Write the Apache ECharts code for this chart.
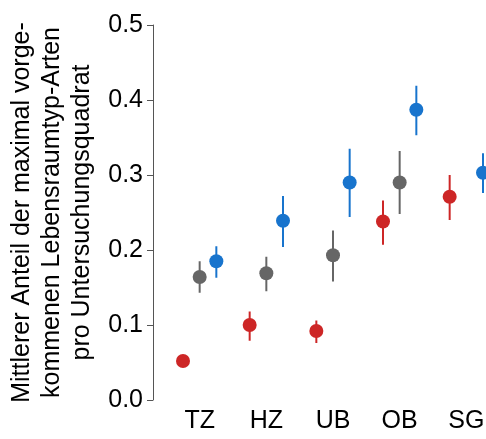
<!DOCTYPE html>
<html>
<head>
<meta charset="utf-8">
<script src="https://cdn.jsdelivr.net/npm/echarts@6/dist/echarts.min.js"></script>
<style>
  html, body { margin: 0; padding: 0; background: #fff; }
  #chart { width: 486px; height: 439px; }
</style>
</head>
<body>
<div id="chart"></div>
<script>
// ----- Data -----
const categories = ['TZ', 'HZ', 'UB', 'OB', 'SG'];

const redMean  = [0.052, 0.100, 0.092, 0.238, 0.271];
const redLow   = [0.046, 0.079, 0.076, 0.207, 0.240];
const redHigh  = [0.058, 0.118, 0.106, 0.266, 0.300];

const grayMean = [0.164, 0.169, 0.193, 0.290, null];
const grayLow  = [0.143, 0.145, 0.158, 0.248, null];
const grayHigh = [0.185, 0.191, 0.226, 0.332, null];

const blueMean = [0.185, 0.239, 0.290, 0.387, 0.303];
const blueLow  = [0.163, 0.204, 0.244, 0.353, 0.276];
const blueHigh = [0.205, 0.272, 0.335, 0.419, 0.329];

const yTitle = 'Mittlerer Anteil der maximal vorge-\nkommenen Lebensraumtyp-Arten\npro Untersuchungsquadrat';

// ----- Styling -----
const FONT = '"Liberation Sans", Arial, sans-serif';
const groups = [
  { name: 'red',  color: '#CD2626', mean: redMean,  low: redLow,  high: redHigh,  offset: -0.25 },
  { name: 'gray', color: '#666666', mean: grayMean, low: grayLow, high: grayHigh, offset: 0 },
  { name: 'blue', color: '#1874CD', mean: blueMean, low: blueLow, high: blueHigh, offset: 0.25 }
];

const chart = echarts.init(document.getElementById('chart'), null, { renderer: 'canvas' });

function errorBarSeries(g) {
  const data = [];
  categories.forEach((c, i) => {
    if (g.mean[i] == null) return;
    data.push([i + g.offset, g.low[i], g.high[i]]);
  });
  return {
    name: g.name + '-err',
    type: 'custom',
    silent: true,
    z: 2,
    data,
    renderItem: (params, api) => {
      const p1 = api.coord([api.value(0), api.value(1)]);
      const p2 = api.coord([api.value(0), api.value(2)]);
      return {
        type: 'line',
        shape: { x1: p1[0], y1: p1[1], x2: p2[0], y2: p2[1] },
        style: { stroke: g.color, lineWidth: 2 }
      };
    }
  };
}

function pointSeries(g) {
  const data = [];
  categories.forEach((c, i) => {
    if (g.mean[i] == null) return;
    data.push([i + g.offset, g.mean[i]]);
  });
  return {
    name: g.name,
    type: 'scatter',
    symbol: 'circle',
    symbolSize: 14,
    clip: false,
    z: 3,
    itemStyle: { color: g.color, opacity: 1 },
    data
  };
}

chart.setOption({
  backgroundColor: '#ffffff',
  animation: false,
  grid: { left: 153, right: 0, top: 25, bottom: 39, outerBoundsMode: 'none', containLabel: false },
  xAxis: {
    type: 'value',
    min: -0.7,
    max: 4.295,
    axisLine: { show: false, onZero: false },
    axisTick: { show: false },
    splitLine: { show: false },
    axisLabel: {
      customValues: categories.map((c, i) => i),
      formatter: v => categories[Math.round(v)] || '',
      color: '#000',
      fontFamily: FONT,
      fontSize: 25,
      margin: 9
    }
  },
  yAxis: {
    type: 'value',
    min: 0,
    max: 0.5,
    interval: 0.1,
    axisLine: { show: true, onZero: false, lineStyle: { color: '#555', width: 1 } },
    axisTick: { show: true, length: 6, lineStyle: { color: '#555', width: 1 } },
    splitLine: { show: false },
    axisLabel: {
      color: '#000',
      fontFamily: FONT,
      fontSize: 25,
      margin: 10,
      formatter: v => v.toFixed(1)
    },
    name: yTitle,
    nameLocation: 'middle',
    nameGap: 56,
    nameTextStyle: {
      color: '#000',
      fontFamily: FONT,
      fontSize: 25,
      lineHeight: 30,
      align: 'center'
    }
  },
  series: [
    ...groups.map(errorBarSeries),
    ...groups.map(pointSeries)
  ]
});

window.addEventListener('resize', () => chart.resize());
</script>
</body>
</html>
